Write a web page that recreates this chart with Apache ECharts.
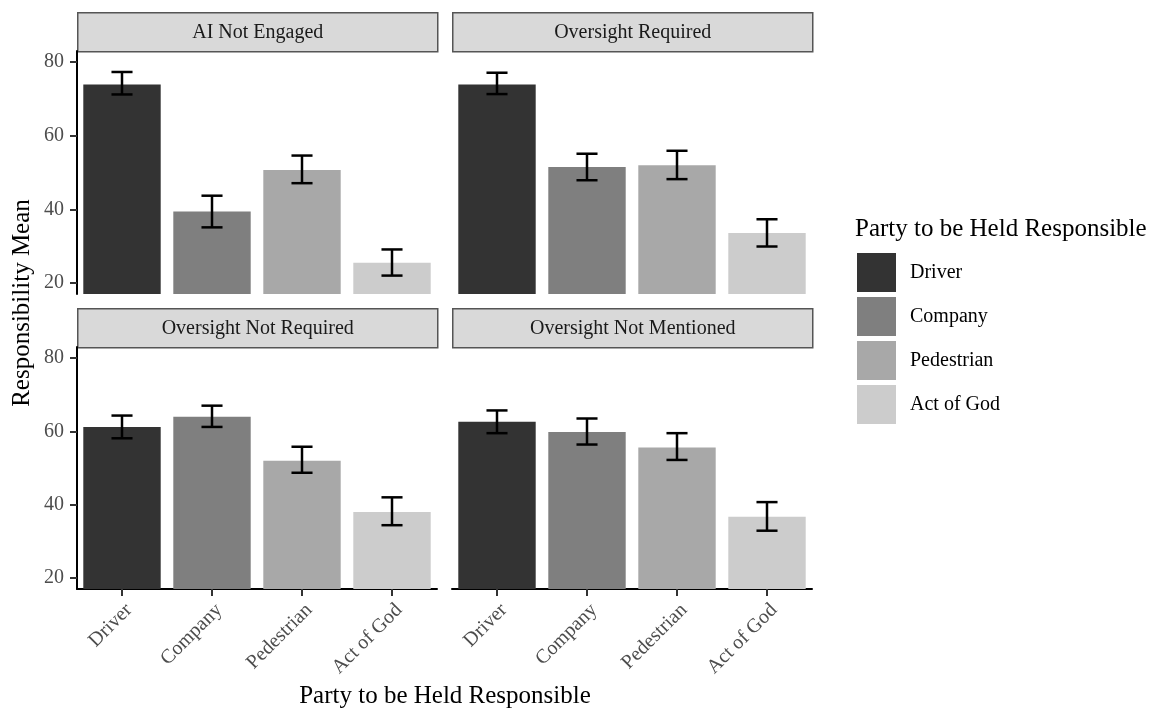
<!DOCTYPE html>
<html>
<head>
<meta charset="utf-8">
<script src="https://cdn.jsdelivr.net/npm/echarts@6/dist/echarts.min.js"></script>
<style>
html,body{margin:0;padding:0;background:#fff;}
#chart{width:1156px;height:710px;}
</style>
</head>
<body>
<div id="chart"></div>
<script>
// ---- data ----
const categories = ['Driver', 'Company', 'Pedestrian', 'Act of God'];
const panels = ['AI Not Engaged', 'Oversight Required', 'Oversight Not Required', 'Oversight Not Mentioned'];
const yTicks = [20, 40, 60, 80];

const meanAINotEngaged = [73.9, 39.4, 50.7, 25.5];
const lowAINotEngaged  = [71.2, 35.1, 47.1, 22.0];
const highAINotEngaged = [77.3, 43.7, 54.6, 29.1];

const meanOversightRequired = [73.9, 51.5, 52.0, 33.6];
const lowOversightRequired  = [71.3, 47.9, 48.2, 29.9];
const highOversightRequired = [77.1, 55.1, 55.9, 37.3];

const meanOversightNotRequired = [61.2, 64.0, 52.0, 38.0];
const lowOversightNotRequired  = [58.1, 61.2, 48.7, 34.4];
const highOversightNotRequired = [64.3, 67.0, 55.8, 42.0];

const meanOversightNotMentioned = [62.6, 59.8, 55.6, 36.7];
const lowOversightNotMentioned  = [59.5, 56.4, 52.2, 32.9];
const highOversightNotMentioned = [65.7, 63.5, 59.5, 40.7];

const means = [meanAINotEngaged, meanOversightRequired, meanOversightNotRequired, meanOversightNotMentioned];
const lows = [lowAINotEngaged, lowOversightRequired, lowOversightNotRequired, lowOversightNotMentioned];
const highs = [highAINotEngaged, highOversightRequired, highOversightNotRequired, highOversightNotMentioned];

const colors = ['#333333', '#7F7F7F', '#A8A8A8', '#CCCCCC'];

// ---- layout ----
const FONT = 'Liberation Serif';
const panelLeft = [77, 452, 77, 452];
const panelTop = [51, 51, 347, 347];
const panelW = 360;
const panelH = [243, 243, 242, 242];
const stripH = 39;

const chart = echarts.init(document.getElementById('chart'));

const grids = [], xAxes = [], yAxes = [], series = [], graphics = [];
panels.forEach((p, k) => {
  const isLeft = (k % 2 === 0);
  const isBottom = (k >= 2);
  grids.push({left: panelLeft[k], top: panelTop[k], width: panelW, height: panelH[k]});
  xAxes.push({
    type: 'category', gridIndex: k, data: categories, show: isBottom,
    axisLine: {show: isBottom, onZero: false, lineStyle: {color: '#000', width: 2}},
    axisTick: {show: isBottom, alignWithLabel: true, length: 7, lineStyle: {color: '#333', width: 2}},
    axisLabel: {show: isBottom, rotate: 45, margin: 11, align: 'right', verticalAlign: 'top',
      color: '#4d4d4d', fontFamily: FONT, fontSize: 20}
  });
  yAxes.push({
    type: 'value', gridIndex: k, min: 17, max: 83,
    splitLine: {show: false},
    axisLine: {show: isLeft, lineStyle: {color: '#000', width: 2}},
    axisTick: {show: isLeft, length: 7, customValues: yTicks, lineStyle: {color: '#333', width: 2}},
    axisLabel: {show: isLeft, customValues: yTicks, margin: 13, color: '#4d4d4d', fontFamily: FONT, fontSize: 20}
  });
  categories.forEach((c, i) => {
    series.push({
      type: 'bar', name: c, xAxisIndex: k, yAxisIndex: k,
      barGap: '-100%', barWidth: '86%',
      itemStyle: {color: colors[i]},
      silent: true,
      data: means[k].map((v, j) => j === i ? v : '-')
    });
  });
  series.push({
    type: 'custom', xAxisIndex: k, yAxisIndex: k, silent: true, z: 10,
    data: categories.map((c, i) => [i, lows[k][i], highs[k][i]]),
    renderItem: function (params, api) {
      const x = api.value(0);
      const lo = api.coord([x, api.value(1)]);
      const hi = api.coord([x, api.value(2)]);
      const half = api.size([1, 0])[0] * 0.117;
      const st = {stroke: '#000', lineWidth: 2.5};
      return {type: 'group', children: [
        {type: 'line', shape: {x1: lo[0], y1: lo[1], x2: hi[0], y2: hi[1]}, style: st},
        {type: 'line', shape: {x1: hi[0] - half, y1: hi[1], x2: hi[0] + half, y2: hi[1]}, style: st},
        {type: 'line', shape: {x1: lo[0] - half, y1: lo[1], x2: lo[0] + half, y2: lo[1]}, style: st}
      ]};
    }
  });
  graphics.push({
    type: 'group', left: panelLeft[k], top: panelTop[k] - stripH,
    children: [
      {type: 'rect', shape: {x: 0, y: 0, width: panelW, height: stripH},
       style: {fill: '#d9d9d9', stroke: '#555', lineWidth: 1.5}},
      {type: 'text', x: panelW / 2, y: stripH / 2,
       style: {text: p, fill: '#1a1a1a', font: '20px "' + FONT + '"', textAlign: 'center', textVerticalAlign: 'middle'}}
    ]
  });
});

graphics.push({type: 'text', x: 22, y: 303, rotation: Math.PI / 2,
  style: {text: 'Responsibility Mean', fill: '#000', font: '25px "' + FONT + '"', textAlign: 'center', textVerticalAlign: 'middle'}});
graphics.push({type: 'text', x: 445, y: 696,
  style: {text: 'Party to be Held Responsible', fill: '#000', font: '25px "' + FONT + '"', textAlign: 'center', textVerticalAlign: 'middle'}});
graphics.push({type: 'text', x: 855, y: 229,
  style: {text: 'Party to be Held Responsible', fill: '#000', font: '25px "' + FONT + '"', textAlign: 'left', textVerticalAlign: 'middle'}});

chart.setOption({
  animation: false,
  backgroundColor: '#fff',
  grid: grids,
  xAxis: xAxes,
  yAxis: yAxes,
  series: series,
  graphic: graphics,
  legend: {
    orient: 'vertical', left: 857, top: 253, padding: 0,
    data: categories,
    icon: 'rect', itemWidth: 39, itemHeight: 39, itemGap: 5,
    selectedMode: false,
    textStyle: {fontFamily: FONT, fontSize: 20, color: '#000', padding: [0, 0, 0, 9]}
  }
});
</script>
</body>
</html>
